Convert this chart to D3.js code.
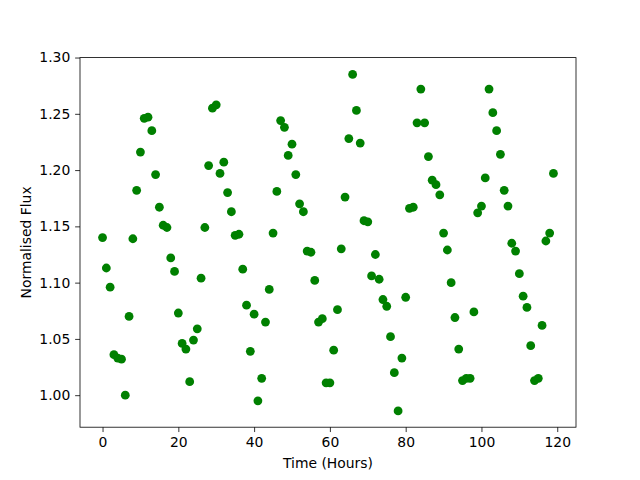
<!DOCTYPE html>
<html>
<head>
<meta charset="utf-8">
<script src="https://cdn.jsdelivr.net/npm/d3@7"></script>
<style>
  body { margin: 0; background: #fff; }
  text { font-family: "DejaVu Sans", sans-serif; }
</style>
</head>
<body>
<div id="chart"></div>
<script>
;(function () {

  'use strict';

  // time in hours, one reading per hour
  var hours = d3.range(0, 120);

  var flux = [
    1.140, 1.113, 1.096, 1.036, 1.033, 1.032, 1.000, 1.070, 1.139, 1.182,
    1.216, 1.246, 1.247, 1.235, 1.196, 1.167, 1.151, 1.149, 1.122, 1.110,
    1.073, 1.046, 1.041, 1.012, 1.049, 1.059, 1.104, 1.149, 1.204, 1.255,
    1.258, 1.197, 1.207, 1.180, 1.163, 1.142, 1.143, 1.112, 1.080, 1.039,
    1.072, 0.995, 1.015, 1.065, 1.094, 1.144, 1.181, 1.244, 1.238, 1.213,
    1.223, 1.196, 1.170, 1.163, 1.128, 1.127, 1.102, 1.065, 1.068, 1.011,
    1.011, 1.040, 1.076, 1.130, 1.176, 1.228, 1.285, 1.253, 1.224, 1.155,
    1.154, 1.106, 1.125, 1.103, 1.085, 1.079, 1.052, 1.020, 0.986, 1.033,
    1.087, 1.166, 1.167, 1.242, 1.272, 1.242, 1.212, 1.191, 1.187, 1.178,
    1.144, 1.129, 1.100, 1.069, 1.041, 1.013, 1.015, 1.015, 1.074, 1.162,
    1.168, 1.193, 1.272, 1.251, 1.235, 1.214, 1.182, 1.168, 1.135, 1.128,
    1.108, 1.088, 1.078, 1.044, 1.013, 1.015, 1.062, 1.137, 1.144, 1.197
  ];

  var xTicks = [0, 20, 40, 60, 80, 100, 120];
  var yTicks = [1.00, 1.05, 1.10, 1.15, 1.20, 1.25, 1.30];

  var width = 640, height = 480;
  var margin = { top: 57.6, right: 64, bottom: 52.8, left: 80 };
  var fontSize = '13.9px';
  var tick = 4.86;

  var svg = d3.select('#chart').append('svg')
              .attr('width', width)
              .attr('height', height);

  var x = d3.scaleLinear()
            .domain([-5.95, 124.95])
            .range([margin.left, width - margin.right]);

  var y = d3.scaleLinear()
            .domain([0.97155, 1.29995])
            .range([height - margin.bottom, margin.top]);

  svg.append('g')
    .selectAll('circle')
    .data(hours)
    .enter().append('circle')
      .attr('cx', function (d) { return x(d); })
      .attr('cy', function (d, i) { return y(flux[i]); })
      .attr('r', 4.4)
      .attr('fill', '#008000');

  var xAxis = svg.append('g')
    .attr('transform', 'translate(0,' + (height - margin.bottom) + ')')
    .call(d3.axisBottom(x).tickValues(xTicks).tickSize(tick).tickPadding(tick).tickSizeOuter(0));

  var yAxis = svg.append('g')
    .attr('transform', 'translate(' + margin.left + ',0)')
    .call(d3.axisLeft(y).tickValues(yTicks).tickFormat(d3.format('.2f')).tickSize(tick).tickPadding(tick).tickSizeOuter(0));

  [xAxis, yAxis].forEach(function (g) {
    g.select('.domain').remove();
    g.selectAll('line').attr('stroke', '#000').attr('stroke-width', 0.8);
    g.selectAll('text')
      .attr('fill', '#000')
      .style('font-family', '"DejaVu Sans", sans-serif')
      .style('font-size', fontSize);
  });

  // axes frame
  svg.append('rect')
    .attr('x', margin.left)
    .attr('y', margin.top)
    .attr('width', width - margin.left - margin.right)
    .attr('height', height - margin.top - margin.bottom)
    .attr('fill', 'none')
    .attr('stroke', '#000')
    .attr('stroke-width', 0.8);

  svg.append('text')
    .attr('x', margin.left + (width - margin.left - margin.right) / 2)
    .attr('y', 468)
    .style('text-anchor', 'middle')
    .style('font-size', fontSize)
    .text('Time (Hours)');

  svg.append('text')
    .attr('transform', 'translate(31,' + (margin.top + (height - margin.top - margin.bottom) / 2) + ') rotate(-90)')
    .style('text-anchor', 'middle')
    .style('font-size', fontSize)
    .text('Normalised Flux');

})();
</script>
</body>
</html>
